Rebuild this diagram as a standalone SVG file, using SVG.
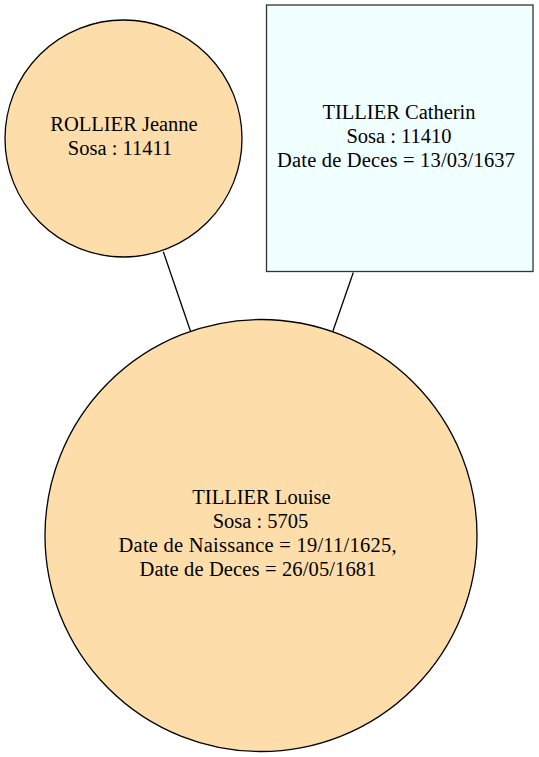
<svg xmlns="http://www.w3.org/2000/svg" width="539" height="757" viewBox="0 0 539 757">
<style>
.n{stroke:#000;stroke-width:1.3}
.c{fill:#fddeab}
.b{fill:#f0ffff;stroke:#333}
.e{stroke:#000;stroke-width:1.3;fill:none}
.t{font-size:20.5px;fill:#000;text-anchor:middle}
</style>
<rect width="539" height="757" fill="#fff"/>
<g id="edges">
<line class="e" x1="163.3" y1="251.7" x2="190.7" y2="331.7"/>
<line class="e" x1="353.3" y1="272.5" x2="332.7" y2="331.7"/>
</g>
<g id="rollier_jeanne">
<circle class="n c" cx="123.5" cy="138.5" r="118.5"/>
<text class="t" font-family="Liberation Serif, DejaVu Serif, serif" x="124" y="131">ROLLIER Jeanne</text>
<text class="t" font-family="Liberation Serif, DejaVu Serif, serif" x="120" y="155">Sosa : 11411</text>
</g>
<g id="tillier_catherin">
<rect class="n b" x="266.5" y="5" width="266.5" height="266.5"/>
<text class="t" font-family="Liberation Serif, DejaVu Serif, serif" x="399" y="119">TILLIER Catherin</text>
<text class="t" font-family="Liberation Serif, DejaVu Serif, serif" x="399" y="143">Sosa : 11410</text>
<text class="t" font-family="Liberation Serif, DejaVu Serif, serif" x="396" y="167" textLength="238" lengthAdjust="spacing">Date de Deces = 13/03/1637</text>
</g>
<g id="tillier_louise">
<circle class="n c" cx="261" cy="535.5" r="216"/>
<text class="t" font-family="Liberation Serif, DejaVu Serif, serif" x="261.5" y="504">TILLIER Louise</text>
<text class="t" font-family="Liberation Serif, DejaVu Serif, serif" x="260.5" y="528">Sosa : 5705</text>
<text class="t" font-family="Liberation Serif, DejaVu Serif, serif" x="257.5" y="552" textLength="278" lengthAdjust="spacing">Date de Naissance = 19/11/1625,</text>
<text class="t" font-family="Liberation Serif, DejaVu Serif, serif" x="258" y="576" textLength="237" lengthAdjust="spacing">Date de Deces = 26/05/1681</text>
</g>
</svg>
